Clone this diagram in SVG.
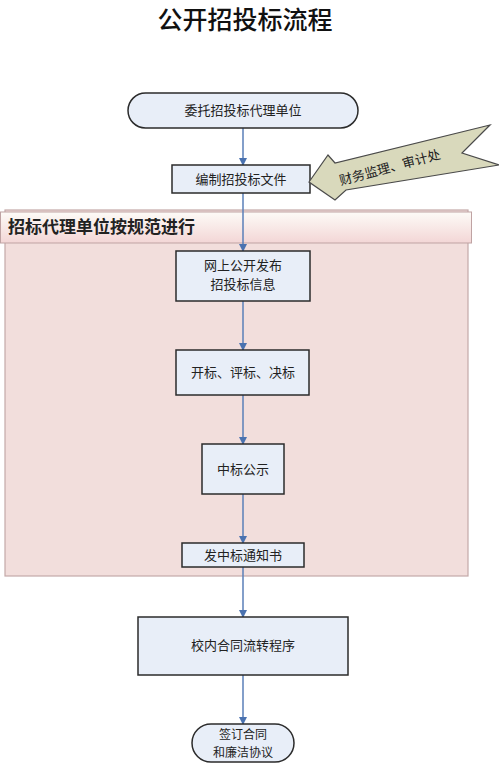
<svg xmlns="http://www.w3.org/2000/svg" width="499" height="763" viewBox="0 0 499 763">
<style>
text{font-family:"Noto Sans CJK SC","Noto Sans CJK TC",sans-serif;fill:#222;text-anchor:middle}
.box{fill:#e8eef8;stroke:#2b2b2b;stroke-width:1.5}
.lbl{font-size:13px}
.conn{stroke:#5a7fb8;stroke-width:1.5;fill:none;marker-end:url(#ah)}
</style>
<defs>
<marker id="ah" markerWidth="8" markerHeight="8" refX="7" refY="4" orient="auto" markerUnits="userSpaceOnUse">
<path d="M0,0 L8,4 L0,8 Z" fill="#4a72b0"/>
</marker>
<linearGradient id="hdr" x1="0" y1="0" x2="0" y2="1">
<stop offset="0" stop-color="#fdfbf7"/>
<stop offset="1" stop-color="#f3d6d6"/>
</linearGradient>
</defs>
<rect width="499" height="763" fill="#ffffff"/>
<text x="245" y="29" style="font-size:25px;font-weight:500;fill:#111">公开招投标流程</text>

<g id="container">
<rect x="5" y="210" width="463" height="366" fill="#f2dedc" stroke="#c4a9a8" stroke-width="1.2"/>
<rect x="0.5" y="212" width="471" height="31" fill="url(#hdr)" stroke="#bfa3a3" stroke-width="1"/>
<text x="8" y="233" style="font-size:17px;font-weight:bold;text-anchor:start">招标代理单位按规范进行</text>
</g>

<g id="connectors">
<line class="conn" x1="243" y1="128" x2="243" y2="165"/>
<line class="conn" x1="243" y1="193" x2="243" y2="251"/>
<line class="conn" x1="243" y1="301" x2="243" y2="350"/>
<line class="conn" x1="243" y1="395" x2="243" y2="444"/>
<line class="conn" x1="243" y1="494" x2="243" y2="543"/>
<line class="conn" x1="243" y1="567" x2="243" y2="617"/>
<line class="conn" x1="243" y1="675" x2="243" y2="724"/>
</g>

<g id="n1">
<rect class="box" x="128" y="93" width="230" height="35" rx="17.5"/>
<text class="lbl" x="243" y="115">委托招投标代理单位</text>
</g>
<g id="n2">
<rect class="box" x="172" y="165" width="138" height="28"/>
<text class="lbl" x="241" y="184">编制招投标文件</text>
</g>
<g id="callout">
<path d="M309,182 L328,155 L335,163 L490,125 L462,153 L499,165 L346,190 L335,200 Z" fill="#d9d9bc" stroke="#4a4a4a" stroke-width="1.2" stroke-linejoin="miter"/>
<text class="lbl" x="390" y="172" transform="rotate(-15 390 168)">财务监理、审计处</text>
</g>
<g id="n3">
<rect class="box" x="176" y="251" width="134" height="50"/>
<text class="lbl" x="243" y="270">网上公开发布</text>
<text class="lbl" x="243" y="289">招投标信息</text>
</g>
<g id="n4">
<rect class="box" x="176" y="350" width="133" height="45"/>
<text class="lbl" x="243" y="377">开标、评标、决标</text>
</g>
<g id="n5">
<rect class="box" x="202" y="444" width="82" height="50"/>
<text class="lbl" x="243" y="474">中标公示</text>
</g>
<g id="n6">
<rect class="box" x="182" y="543" width="122" height="24"/>
<text class="lbl" x="243" y="560">发中标通知书</text>
</g>
<g id="n7">
<rect class="box" x="138" y="617" width="210" height="58"/>
<text class="lbl" x="243" y="650">校内合同流转程序</text>
</g>
<g id="n8">
<rect class="box" x="192" y="724" width="102" height="38" rx="19"/>
<text x="243" y="739" style="font-size:12px">签订合同</text>
<text x="243" y="757" style="font-size:12px">和廉洁协议</text>
</g>
</svg>
